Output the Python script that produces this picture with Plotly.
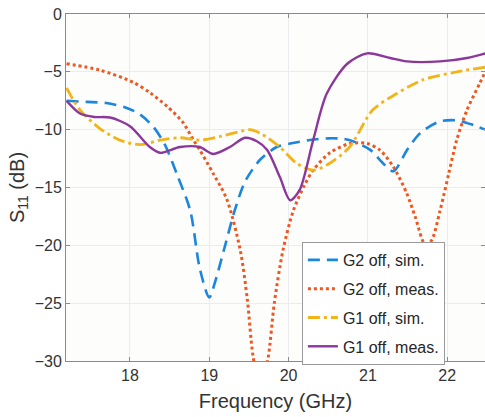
import plotly.graph_objects as go

# G2 off, sim.
g2_sim_x = [17.2, 17.45, 17.7, 17.95, 18.13, 18.3, 18.44, 18.6, 18.76, 18.88, 19.0, 19.08, 19.2, 19.32, 19.45, 19.64, 19.85, 20.02, 20.27, 20.5, 20.7, 20.85, 21.03, 21.19, 21.32, 21.5, 21.66, 21.9, 22.12, 22.33, 22.48]
g2_sim_y = [-7.5, -7.6, -7.7, -8.1, -8.7, -9.8, -11.3, -14.0, -17.0, -22.0, -24.5, -23.0, -20.0, -17.0, -14.5, -12.6, -11.5, -11.2, -10.9, -10.75, -10.8, -11.1, -11.75, -12.9, -13.6, -11.7, -10.3, -9.3, -9.2, -9.6, -10.0]

# G2 off, meas.
g2_meas_x = [17.2, 17.62, 18.04, 18.25, 18.47, 18.67, 18.8, 18.88, 19.05, 19.22, 19.39, 19.48, 19.55, 19.64, 19.74, 19.82, 19.93, 20.06, 20.2, 20.31, 20.52, 20.77, 20.99, 21.15, 21.32, 21.49, 21.6, 21.72, 21.8, 21.91, 22.02, 22.12, 22.25, 22.41, 22.48]
g2_meas_y = [-4.3, -4.85, -5.9, -6.8, -8.0, -9.4, -10.9, -11.75, -13.8, -16.0, -20.4, -24.7, -29.5, -32.5, -29.8, -25.0, -20.4, -17.0, -14.8, -13.5, -12.0, -11.2, -11.2, -11.75, -13.2, -15.5, -17.6, -19.9, -19.6, -17.0, -13.8, -10.9, -8.3, -6.0, -5.0]

# G1 off, sim.
g1_sim_x = [17.2, 17.37, 17.62, 17.87, 18.13, 18.38, 18.63, 18.88, 19.13, 19.39, 19.51, 19.64, 19.89, 20.1, 20.31, 20.52, 20.77, 21.06, 21.36, 21.69, 22.12, 22.48]
g1_sim_y = [-6.4, -8.3, -9.9, -10.9, -11.3, -10.9, -10.7, -10.9, -10.6, -10.15, -10.0, -10.3, -11.5, -12.9, -13.5, -12.9, -11.5, -8.3, -6.9, -5.7, -5.0, -4.6]

# G1 off, meas.
g1_meas_x = [17.2, 17.37, 17.55, 17.75, 18.0, 18.25, 18.38, 18.63, 18.88, 19.05, 19.26, 19.45, 19.6, 19.73, 19.89, 20.02, 20.14, 20.31, 20.48, 20.74, 20.99, 21.28, 21.49, 21.91, 22.25, 22.48]
g1_meas_y = [-7.5, -8.6, -8.9, -8.95, -9.7, -11.5, -12.0, -11.5, -11.5, -12.1, -11.5, -10.7, -11.0, -11.75, -14.1, -16.1, -15.2, -10.9, -6.9, -4.3, -3.4, -3.8, -4.1, -4.1, -3.8, -3.4]

x_ticks = [18, 19, 20, 21, 22]
y_ticks = [0, -5, -10, -15, -20, -25, -30]

FONT = "Arial, Liberation Sans, sans-serif"

fig = go.Figure()
fig.add_trace(go.Scatter(x=g2_sim_x, y=g2_sim_y, mode="lines", name="G2 off, sim.", legendgroup="a",
                         line=dict(color="#1A86E0", width=2.6, dash="12px,7px", shape="spline", smoothing=0.8)))
fig.add_trace(go.Scatter(x=g2_meas_x, y=g2_meas_y, mode="lines", name="G2 off, meas.", legendgroup="b",
                         line=dict(color="#F0561E", width=3, dash="dot", shape="spline", smoothing=0.8)))
fig.add_trace(go.Scatter(x=g1_sim_x, y=g1_sim_y, mode="lines", name="G1 off, sim.", legendgroup="c",
                         line=dict(color="#F2B418", width=2.8, dash="12px,4px,3px,4px", shape="spline", smoothing=0.8)))
fig.add_trace(go.Scatter(x=g1_meas_x, y=g1_meas_y, mode="lines", name="G1 off, meas.", legendgroup="d",
                         line=dict(color="#8B379B", width=2.4, shape="spline", smoothing=0.8)))

fig.update_layout(
    width=485, height=417,
    margin=dict(l=66, r=0, t=14, b=56),
    paper_bgcolor="white", plot_bgcolor="#FDFDFB",
    font=dict(family=FONT, color="#333333", size=16),
    showlegend=True,
    legend=dict(x=0.563, y=0.343, xanchor="left", yanchor="top",
                bgcolor="white", bordercolor="#9A9A9A", borderwidth=1,
                font=dict(size=16, color="#262626"), tracegroupgap=5),
    xaxis=dict(range=[17.193, 22.477], tickvals=x_ticks, showgrid=True, gridcolor="#EAEDF0",
               zeroline=False, showline=True, linecolor="#8A8A8A", linewidth=1, mirror="ticks",
               ticks="inside", ticklen=4, tickcolor="#8A8A8A",
               tickfont=dict(size=16, color="#333333"),
               title=dict(text="Frequency (GHz)", font=dict(size=20, color="#333333"), standoff=10)),
    yaxis=dict(range=[-30, 0], tickvals=y_ticks, showgrid=True, gridcolor="#EAEDF0",
               zeroline=False, showline=True, linecolor="#8A8A8A", linewidth=1, mirror="ticks",
               ticks="inside", ticklen=4, tickcolor="#8A8A8A",
               tickfont=dict(size=16, color="#333333"),
               title=dict(text="S<sub>11</sub> (dB)", font=dict(size=20, color="#333333"), standoff=4)),
)

fig.write_html("out.html")
